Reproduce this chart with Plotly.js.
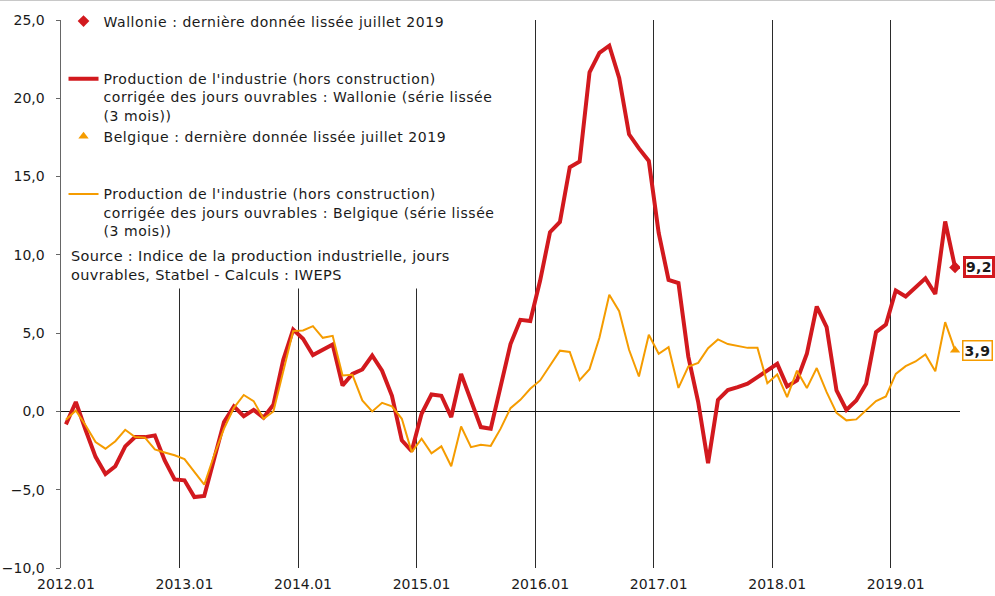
<!DOCTYPE html>
<html><head><meta charset="utf-8">
<script src="https://cdn.plot.ly/plotly-3.0.1.min.js"></script>
<style>html,body{margin:0;padding:0;background:#fff}#chart{width:995px;height:595px;border-top:1px solid #c8c8c8}
.legendtext{letter-spacing:0.55px}.annotation-text{letter-spacing:0.35px}</style>
</head><body><div id="chart"></div>
<script>
const months = [
'2012.01','2012.02','2012.03','2012.04','2012.05','2012.06','2012.07','2012.08','2012.09','2012.10','2012.11','2012.12',
'2013.01','2013.02','2013.03','2013.04','2013.05','2013.06','2013.07','2013.08','2013.09','2013.10','2013.11','2013.12',
'2014.01','2014.02','2014.03','2014.04','2014.05','2014.06','2014.07','2014.08','2014.09','2014.10','2014.11','2014.12',
'2015.01','2015.02','2015.03','2015.04','2015.05','2015.06','2015.07','2015.08','2015.09','2015.10','2015.11','2015.12',
'2016.01','2016.02','2016.03','2016.04','2016.05','2016.06','2016.07','2016.08','2016.09','2016.10','2016.11','2016.12',
'2017.01','2017.02','2017.03','2017.04','2017.05','2017.06','2017.07','2017.08','2017.09','2017.10','2017.11','2017.12',
'2018.01','2018.02','2018.03','2018.04','2018.05','2018.06','2018.07','2018.08','2018.09','2018.10','2018.11','2018.12',
'2019.01','2019.02','2019.03','2019.04','2019.05','2019.06','2019.07'];

const wallonie = [
-0.83,0.6,-1.2,-2.9,-4.0,-3.5,-2.23,-1.64,-1.64,-1.53,-3.13,-4.34,
-4.4,-5.47,-5.4,-3.13,-0.68,0.32,-0.3,0.1,-0.4,0.43,3.3,5.23,
4.64,3.6,3.94,4.28,1.66,2.4,2.68,3.57,2.6,1.0,-1.85,-2.53,
-0.15,1.08,1.0,-0.36,2.4,0.7,-1.0,-1.1,1.66,4.3,5.85,5.77,
8.36,11.45,12.1,15.6,15.96,21.66,22.9,23.36,21.3,17.7,16.8,16.0,
11.4,8.4,8.2,3.5,0.6,-3.3,0.74,1.36,1.55,1.77,2.19,2.6,
3.04,1.6,1.98,3.68,6.7,5.38,1.34,0.1,0.7,1.77,5.06,5.55,
7.72,7.34,7.89,8.5,7.5,12.13,9.2];

const belgique = [
-0.53,0.06,-0.9,-1.96,-2.38,-1.9,-1.17,-1.64,-1.68,-2.43,-2.62,-2.8,
-3.05,-3.87,-4.68,-2.8,-1.1,0.23,1.05,0.66,-0.47,0.0,2.6,5.13,
5.17,5.45,4.7,4.83,2.3,2.34,0.7,0.0,0.55,0.32,-0.47,-2.6,
-1.74,-2.68,-2.23,-3.5,-0.96,-2.28,-2.13,-2.2,-1.1,0.21,0.74,1.45,
1.98,2.94,3.88,3.8,2.0,2.7,4.7,7.45,6.4,3.94,2.23,4.9,
3.68,4.1,1.5,2.87,3.1,4.04,4.6,4.3,4.17,4.06,4.06,1.8,
2.36,0.91,2.6,1.49,2.77,1.23,-0.09,-0.57,-0.51,0.06,0.66,0.96,
2.4,2.89,3.19,3.64,2.57,5.7,3.9];

const tickLabels = ['2012.01','2013.01','2014.01','2015.01','2016.01','2017.01','2018.01','2019.01'];
// year boundaries (between December and January), in category index units
const yearBoundaries = [11.5, 23.5, 35.5, 47.5, 59.5, 71.5, 83.5];

const names = {
  walLast: 'Wallonie : dernière donnée lissée juillet 2019<br>\u00a0<br>\u00a0',
  walLine: "Production de l'industrie (hors construction)<br>corrigée des jours ouvrables : Wallonie (série lissée<br>(3 mois))",
  belLast: 'Belgique : dernière donnée lissée juillet 2019<br>\u00a0<br>\u00a0',
  belLine: "Production de l'industrie (hors construction)<br>corrigée des jours ouvrables : Belgique (série lissée<br>(3 mois))"
};
const sourceText = 'Source : Indice de la production industrielle, jours<br>ouvrables, Statbel - Calculs : IWEPS';

const RED = '#d2191e', ORANGE = '#f59c00', TXT = '#1a1a1a';
const FONT = '"DejaVu Sans", sans-serif';
const lastIdx = months.length - 1;
const lastMonth = months[lastIdx];
const walLast = wallonie[lastIdx], belLast = belgique[lastIdx];
const fmt = v => v.toFixed(1).replace('.', ',');

const traces = [
  {x: months, y: wallonie, type: 'scatter', mode: 'lines', name: names.walLine, legendrank: 2,
   line: {color: RED, width: 4}, hoverinfo: 'skip'},
  {x: [lastMonth], y: [walLast], type: 'scatter', mode: 'markers', name: names.walLast, legendrank: 1,
   marker: {symbol: 'diamond', color: RED, size: 9}},
  {x: months, y: belgique, type: 'scatter', mode: 'lines', name: names.belLine, legendrank: 4,
   line: {color: ORANGE, width: 2}, hoverinfo: 'skip'},
  {x: [lastMonth], y: [belLast], type: 'scatter', mode: 'markers', name: names.belLast, legendrank: 3,
   marker: {symbol: 'triangle-up', color: ORANGE, size: 9}},
  // empty trace so that the year-boundary grid axis (x2) gets drawn
  {x: [], y: [], type: 'scatter', mode: 'lines', xaxis: 'x2', yaxis: 'y', showlegend: false, hoverinfo: 'skip'}
];

const layout = {
  width: 995, height: 595,
  margin: {l: 61, r: 35, t: 19, b: 28, pad: 0, autoexpand: false},
  paper_bgcolor: '#fff', plot_bgcolor: '#fff',
  separators: ', ',
  font: {family: FONT, size: 14, color: TXT},
  showlegend: true,
  legend: {x: 0.0028, xanchor: 'left', yref: 'container', y: 0.9924, yanchor: 'top', bgcolor: '#ffffff',
           valign: 'top', traceorder: 'normal', tracegroupgap: 0, itemwidth: 30,
           font: {family: FONT, size: 14, color: TXT}},
  xaxis: {type: 'category', categoryorder: 'array', categoryarray: months,
          range: [-0.5, months.length - 0.5],
          tickmode: 'array', tickvals: tickLabels, ticktext: tickLabels, tickangle: 0,
          ticks: '', showgrid: false, showline: false, zeroline: false,
          tickfont: {size: 14, color: TXT}, ticklabelstandoff: 6},
  xaxis2: {overlaying: 'x', anchor: 'y', type: 'linear', range: [-0.5, months.length - 0.5],
           tickmode: 'array', tickvals: yearBoundaries, showticklabels: false, ticks: '',
           showgrid: true, gridcolor: '#2b2b2b', gridwidth: 1, showline: false, zeroline: false},
  yaxis: {range: [-10, 25], tickmode: 'linear', tick0: -10, dtick: 5, tickformat: '.1f',
          showgrid: false, zeroline: true, zerolinecolor: '#111', zerolinewidth: 1,
          showline: true, linecolor: '#666', linewidth: 1.5, ticks: 'outside', ticklen: 4, tickcolor: '#666',
          tickfont: {size: 14, color: TXT}, ticklabelstandoff: 8},
  annotations: [
    {xref: 'paper', yref: 'paper', x: 0.0045, y: 0.5941, xanchor: 'left', yanchor: 'top', align: 'left',
     showarrow: false, text: sourceText, bgcolor: '#ffffff', borderpad: 5,
     font: {family: FONT, size: 14.5, color: TXT}},
    {xref: 'x', yref: 'y', x: lastIdx, y: walLast, xanchor: 'left', yanchor: 'middle', xshift: 8,
     showarrow: false, text: fmt(walLast), bgcolor: '#fff', bordercolor: RED, borderwidth: 3, borderpad: 0,
     font: {family: FONT, size: 14, color: TXT, weight: 'bold'}},
    {xref: 'x', yref: 'y', x: lastIdx, y: belLast, xanchor: 'left', yanchor: 'middle', xshift: 7,
     showarrow: false, text: fmt(belLast), bgcolor: '#fff', bordercolor: ORANGE, borderwidth: 1.5, borderpad: 1,
     font: {family: FONT, size: 14, color: TXT, weight: 'bold'}}
  ]
};

Plotly.newPlot('chart', traces, layout, {displayModeBar: false, staticPlot: true});
</script>
</body></html>
